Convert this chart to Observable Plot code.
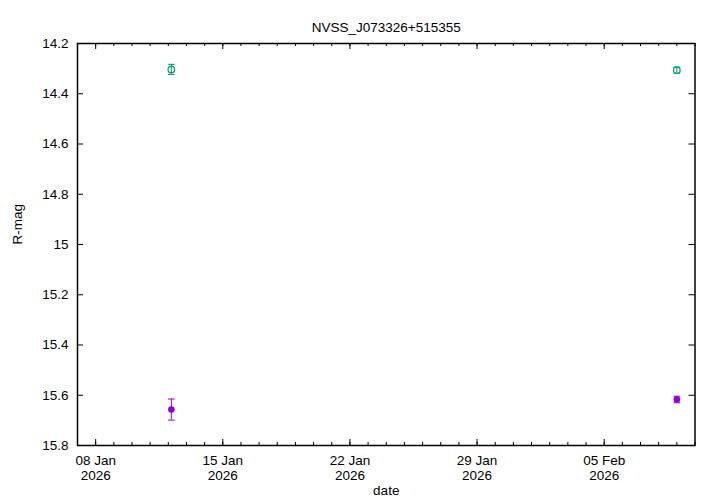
<!DOCTYPE html>
<html>
<head>
<meta charset="utf-8">
<script src="https://cdn.jsdelivr.net/npm/d3@7"></script>
<script src="https://cdn.jsdelivr.net/npm/@observablehq/plot@0.6"></script>
<style>
  html, body { margin: 0; padding: 0; background: #fff; }
</style>
</head>
<body>
<div id="chart"></div>
<script>
// ---- data ----
const chartTitle = "NVSS_J073326+515355";
const xLabel = "date";
const yLabel = "R-mag";

// series 1: filled purple circles
const purpleDates = ["2026-01-12T04:00:00Z", "2026-02-09T00:00:00Z"];
const purpleMag   = [15.657, 15.617];
const purpleErr   = [0.042, 0.013];

// series 2: open green circles
const greenDates = ["2026-01-12T04:00:00Z", "2026-02-09T00:00:00Z"];
const greenMag   = [14.303, 14.306];
const greenErr   = [0.020, 0.012];

// axes
const xDomain = ["2026-01-07T00:00:00Z", "2026-02-10T00:00:00Z"];
const xMajorTicks = ["2026-01-08", "2026-01-15", "2026-01-22", "2026-01-29", "2026-02-05"];
const yDomain = [14.2, 15.8];
const yTicks = [14.2, 14.4, 14.6, 14.8, 15.0, 15.2, 15.4, 15.6, 15.8];

// ---- layout ----
const W = 720, H = 504;
const mL = 77, mR = 25.5, mT = 43, mB = 59;
const plotW = W - mL - mR, plotH = H - mT - mB;
const majorLen = 6, minorLen = 3;
const purple = "#9400d3", green = "#009e73";

const toRows = (dates, mag, err) =>
  dates.map((d, i) => ({date: new Date(d), mag: mag[i], lo: mag[i] - err[i], hi: mag[i] + err[i]}));
const purpleRows = toRows(purpleDates, purpleMag, purpleErr);
const greenRows = toRows(greenDates, greenMag, greenErr);

const xd = xDomain.map(d => new Date(d));
const xMajor = xMajorTicks.map(d => new Date(d + "T00:00:00Z"));
const xMinor = d3.utcDay.range(xd[0], d3.utcDay.offset(xd[1], 1));

const capSymbol = {
  draw(context, size) {
    const r = Math.sqrt(size / Math.PI);
    context.moveTo(-r, 0);
    context.lineTo(r, 0);
  }
};

const fmtX = d => d3.utcFormat("%d %b")(d) + "\n" + d3.utcFormat("%Y")(d);

function errMarks(rows, color, filled) {
  return [
    Plot.ruleX(rows, {x: "date", y1: "lo", y2: "hi", stroke: color, strokeWidth: 1}),
    Plot.dot(rows, {x: "date", y: "lo", symbol: capSymbol, r: 3.4, stroke: color, strokeWidth: 1, fill: "none"}),
    Plot.dot(rows, {x: "date", y: "hi", symbol: capSymbol, r: 3.4, stroke: color, strokeWidth: 1, fill: "none"}),
    Plot.dot(rows, {x: "date", y: "mag", r: 3.3, stroke: color, strokeWidth: filled ? 0 : 1.2,
                    fill: filled ? color : "none"})
  ];
}

const chart = Plot.plot({
  width: W, height: H,
  marginLeft: mL, marginRight: mR, marginTop: mT, marginBottom: mB,
  style: {fontSize: "13.5px", fontFamily: "'Liberation Sans', Arial, sans-serif", background: "#fff", color: "#000"},
  x: {type: "utc", domain: xd},
  y: {domain: yDomain, reverse: true},
  marks: [
    // tick labels
    Plot.axisX(xMajor, {anchor: "bottom", tickSize: 0, tickPadding: 10, tickFormat: fmtX, label: null, lineHeight: 1.04, fill: "#000"}),
    Plot.axisY(yTicks, {anchor: "left", tickSize: 0, tickPadding: 9, tickFormat: d3.format("~g"), label: null, fill: "#000"}),
    // inward ticks (bottom, top, left, right)
    Plot.ruleX(xMinor, {x: d => d, insetTop: plotH - minorLen, stroke: "#000", strokeWidth: 1}),
    Plot.ruleX(xMinor, {x: d => d, insetBottom: plotH - minorLen, stroke: "#000", strokeWidth: 1}),
    Plot.ruleX(xMajor, {x: d => d, insetTop: plotH - majorLen, stroke: "#000", strokeWidth: 1}),
    Plot.ruleX(xMajor, {x: d => d, insetBottom: plotH - majorLen, stroke: "#000", strokeWidth: 1}),
    Plot.ruleY(yTicks, {y: d => d, insetRight: plotW - majorLen, stroke: "#000", strokeWidth: 1}),
    Plot.ruleY(yTicks, {y: d => d, insetLeft: plotW - majorLen, stroke: "#000", strokeWidth: 1}),
    // data
    ...errMarks(purpleRows, purple, true),
    ...errMarks(greenRows, green, false),
    // border
    Plot.frame({stroke: "#000", strokeWidth: 1.5}),
    // titles
    Plot.text([chartTitle], {frameAnchor: "top", dy: -21.5, fill: "#000"}),
    Plot.text([xLabel], {frameAnchor: "bottom", dy: 49.5, fill: "#000"}),
    Plot.text([yLabel], {frameAnchor: "left", dx: -60, rotate: -90, fill: "#000"})
  ]
});
document.getElementById("chart").appendChild(chart);
</script>
</body>
</html>
